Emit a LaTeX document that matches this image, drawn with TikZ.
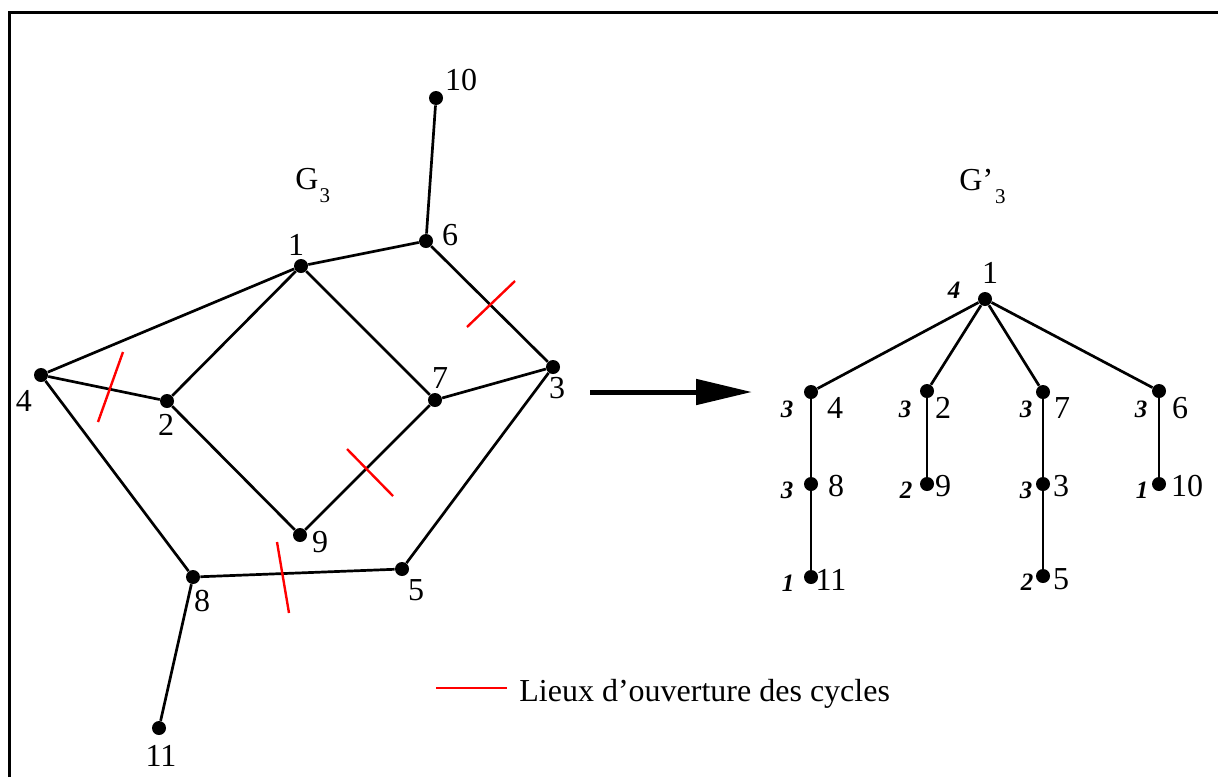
\documentclass[tikz,border=0pt]{standalone}
\usepackage{fontspec}
\setmainfont{Liberation Serif}
\usetikzlibrary{arrows.meta}

\begin{document}
\begin{tikzpicture}[x=0.5pt, y=-0.5pt,
        vtx/.style={circle, fill=black, inner sep=0pt, minimum size=7pt},
        lbl/.style={font=\fontsize{16}{19}\selectfont, inner sep=0pt},
        wgt/.style={font=\fontsize{12.5}{14}\selectfont\bfseries\itshape, inner sep=0pt},
        edge/.style={draw=black, line width=1.35pt},
        cut/.style={draw=red, line width=1.2pt},
        bigarrow/.style={-{Triangle[length=28pt, width=12.5pt]}, draw=black, line width=2.5pt}
      ]
        \useasboundingbox (0,0) rectangle (1218,777);
        \draw[line width=1.5pt] (9,777) -- (9,12) -- (1218,12);

        % graph G_3
        \node[vtx] (a10) at (436,98)  {};
        \node[vtx] (a6)  at (426,241) {};
        \node[vtx] (a1)  at (301,266) {};
        \node[vtx] (a4)  at (41,375)  {};
        \node[vtx] (a2)  at (167,401) {};
        \node[vtx] (a7)  at (435,400) {};
        \node[vtx] (a3)  at (553,367) {};
        \node[vtx] (a9)  at (300,535) {};
        \node[vtx] (a8)  at (193,577) {};
        \node[vtx] (a5)  at (402,569) {};
        \node[vtx] (a11) at (159,728) {};

        \node[lbl] (la10) at (461,80)  {10};
        \node[lbl] (la6)  at (450,235) {6};
        \node[lbl] (la1)  at (296,245) {1};
        \node[lbl] (la4)  at (24,401)  {4};
        \node[lbl] (la2)  at (166,425) {2};
        \node[lbl] (la7)  at (440,378) {7};
        \node[lbl] (la3)  at (557,388) {3};
        \node[lbl] (la9)  at (320,542) {9};
        \node[lbl] (la8)  at (202,601) {8};
        \node[lbl] (la5)  at (416,590) {5};
        \node[lbl] (la11) at (161,756) {11};

        \draw[edge] (a10) -- (a6);
        \draw[edge] (a6) -- (a1);
        \draw[edge] (a6) -- (a3);
        \draw[edge] (a1) -- (a4);
        \draw[edge] (a1) -- (a2);
        \draw[edge] (a1) -- (a7);
        \draw[edge] (a4) -- (a2);
        \draw[edge] (a4) -- (a8);
        \draw[edge] (a2) -- (a9);
        \draw[edge] (a9) -- (a7);
        \draw[edge] (a7) -- (a3);
        \draw[edge] (a3) -- (a5);
        \draw[edge] (a5) -- (a8);
        \draw[edge] (a8) -- (a11);

        % cycle openings
        \draw[cut] (98,422) -- (123,352);
        \draw[cut] (467,327) -- (515,281);
        \draw[cut] (347,449) -- (393,496);
        \draw[cut] (277,542) -- (289,613);

        \node[lbl, anchor=base west] (g3) at (295,189)
            {G\kern0.5pt\raisebox{-6.5pt}{\fontsize{10.5}{10.5}\selectfont 3}};
        \node[lbl, anchor=base west] (gp3) at (959,190)
            {G’\kern1pt\raisebox{-6.5pt}{\fontsize{10.5}{10.5}\selectfont 3}};

        % transformation
        \coordinate (arrS) at (590,392);
        \coordinate (arrE) at (752,392);
        \draw[bigarrow] (arrS) -- (arrE);

        % tree G'_3
        \node[vtx] (b1)  at (985,299)  {};
        \node[vtx] (b4)  at (811,392)  {};
        \node[vtx] (b2)  at (927,391)  {};
        \node[vtx] (b7)  at (1043,392) {};
        \node[vtx] (b6)  at (1159,391) {};
        \node[vtx] (b8)  at (811,484)  {};
        \node[vtx] (b9)  at (927,484)  {};
        \node[vtx] (b3)  at (1043,484) {};
        \node[vtx] (b10) at (1159,484) {};
        \node[vtx] (b11) at (811,577)  {};
        \node[vtx] (b5)  at (1043,576) {};

        \node[lbl] (lb1)  at (990,273)  {1};
        \node[lbl] (lb4)  at (835,408)  {4};
        \node[lbl] (lb2)  at (943,408)  {2};
        \node[lbl] (lb7)  at (1062,408) {7};
        \node[lbl] (lb6)  at (1180,408) {6};
        \node[lbl] (lb8)  at (836,486)  {8};
        \node[lbl] (lb9)  at (943,486)  {9};
        \node[lbl] (lb3)  at (1061,486) {3};
        \node[lbl] (lb10) at (1187,486) {10};
        \node[lbl] (lb11) at (831,580)  {11};
        \node[lbl] (lb5)  at (1061,579) {5};

        \node[wgt] (w1)  at (954,290)  {4};
        \node[wgt] (w4)  at (787,409)  {3};
        \node[wgt] (w2)  at (905,409)  {3};
        \node[wgt] (w7)  at (1026,409) {3};
        \node[wgt] (w6)  at (1141,409) {3};
        \node[wgt] (w8)  at (787,490)  {3};
        \node[wgt] (w9)  at (906,490)  {2};
        \node[wgt] (w3)  at (1026,490) {3};
        \node[wgt] (w10) at (1142,490) {1};
        \node[wgt] (w11) at (788,583)  {1};
        \node[wgt] (w5)  at (1027,582) {2};

        \draw[edge] (b1) -- (b4);
        \draw[edge] (b1) -- (b2);
        \draw[edge] (b1) -- (b7);
        \draw[edge] (b1) -- (b6);
        \draw[edge] (b4) -- (b8);
        \draw[edge] (b8) -- (b11);
        \draw[edge] (b2) -- (b9);
        \draw[edge] (b7) -- (b3);
        \draw[edge] (b3) -- (b5);
        \draw[edge] (b6) -- (b10);

        % legend
        \coordinate (legS) at (436,688);
        \coordinate (legE) at (507,688);
        \draw[cut] (legS) -- (legE);
        \node[lbl, anchor=base west] (legtxt) at (519,701) {Lieux d’ouverture des cycles};
\end{tikzpicture}
\end{document}
